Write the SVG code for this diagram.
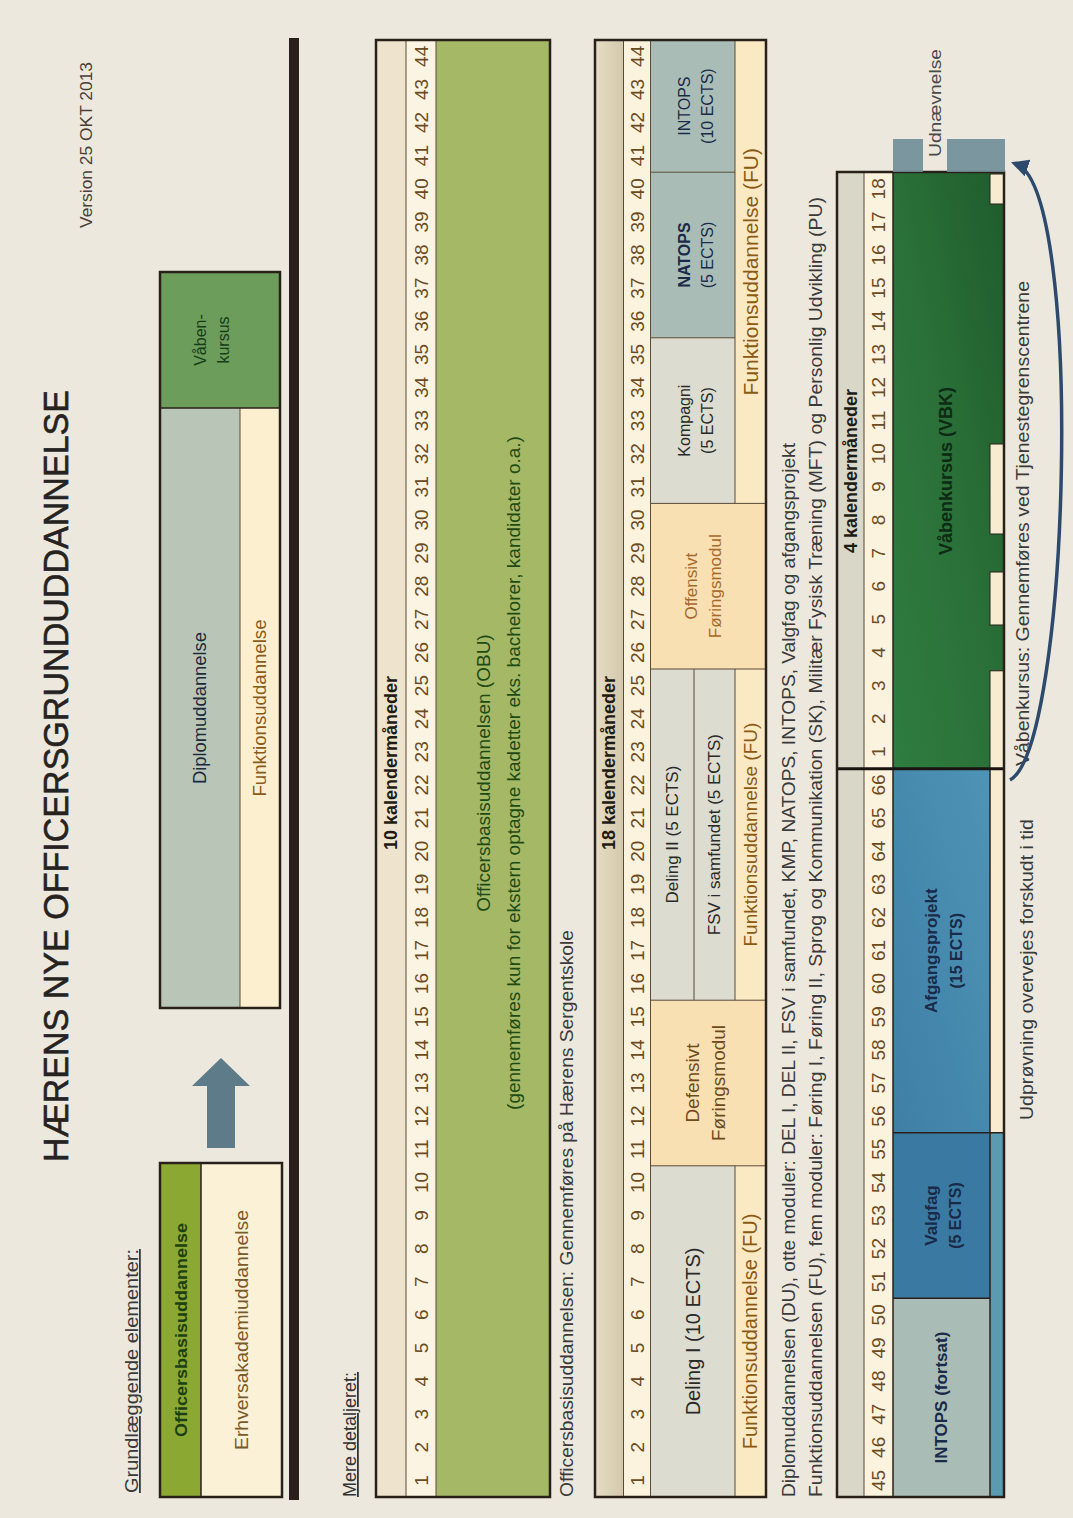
<svg xmlns="http://www.w3.org/2000/svg" width="1073" height="1518" viewBox="0 0 1073 1518">
<defs>
<style>
text{font-family:"Liberation Sans",Arial,sans-serif;}
.num{font-size:19px;fill:#6b4b22;text-anchor:middle}
.hdr{font-size:18px;font-weight:bold;fill:#1e1a14;text-anchor:middle}
.c{text-anchor:middle}
.out{fill:none;stroke:#2a201a;stroke-width:2.5}
.ln{stroke:#5a4a36;stroke-width:1;fill:none}
.lnd{stroke:#2a201a;stroke-width:1.5;fill:none}
.cap{font-size:18px;fill:#3a3a3a}
.fu{fill:#8a5a14}
.cell{fill:#2a2a2a}
.navy{fill:#1a2a48}
.bold{font-weight:bold}
.notch{fill:#f7ecd2;stroke:#2a201a;stroke-width:1}
</style>
<linearGradient id="gHdr2" x1="0" y1="0" x2="0" y2="1"><stop offset="0" stop-color="#e6ddc6"/><stop offset="1" stop-color="#d3c8aa"/></linearGradient>
<linearGradient id="gVBK" x1="0" y1="0" x2="1" y2="1"><stop offset="0" stop-color="#2f7d40"/><stop offset="0.5" stop-color="#2a7038"/><stop offset="1" stop-color="#1f5c2d"/></linearGradient>
<linearGradient id="gAfg" x1="0" y1="0" x2="1" y2="1"><stop offset="0" stop-color="#3f7fa6"/><stop offset="1" stop-color="#4e94b6"/></linearGradient>
<marker id="ah" viewBox="0 0 10 10" refX="7" refY="5" markerWidth="5" markerHeight="5" orient="auto"><path d="M0,0 L10,5 L0,10 z" fill="#2d4a6d"/></marker>
</defs>
<rect x="0" y="0" width="1073" height="1518" fill="#ece8de"/>
<g transform="matrix(0,-1,1,0,0,1518)">

<g id="title">
<text x="356" y="68" font-size="35" fill="#262220" stroke="#262220" stroke-width="0.6" textLength="772" lengthAdjust="spacingAndGlyphs">HÆRENS NYE OFFICERSGRUNDUDDANNELSE</text>
<text x="1290" y="92" font-size="17" fill="#4a4038" textLength="166" lengthAdjust="spacingAndGlyphs">Version 25 OKT 2013</text>
</g>

<g id="legend-title">
<text x="25" y="138" font-size="18" fill="#3a3a3a" text-decoration="underline" textLength="244" lengthAdjust="spacingAndGlyphs">Grundlæggende elementer:</text>
</g>

<g id="legend-obu">
<rect x="21" y="160" width="334" height="41" fill="#8ba832"/>
<rect x="21" y="201" width="334" height="81" fill="#fbf1d6"/>
<line class="lnd" x1="21" y1="201" x2="355" y2="201"/>
<rect class="out" x="21" y="160" width="334" height="122"/>
<text class="c bold" x="188" y="187" font-size="17" fill="#1d4012" textLength="214" lengthAdjust="spacingAndGlyphs">Officersbasisuddannelse</text>
<text class="c" x="188" y="248" font-size="18" fill="#7a5a2a" textLength="240" lengthAdjust="spacingAndGlyphs">Erhversakademiuddannelse</text>
</g>

<g id="legend-arrow">
<polygon points="370,207 432,207 432,192 460,221 432,250 432,235 370,235" fill="#5e7b89"/>
</g>

<g id="legend-du">
<rect x="510" y="160" width="600" height="80" fill="#b9c5b7"/>
<rect x="510" y="240" width="600" height="40" fill="#fbefcf"/>
<rect x="1110" y="160" width="136" height="120" fill="#6c9d5b"/>
<line class="ln" x1="510" y1="240" x2="1110" y2="240"/>
<line class="lnd" x1="1110" y1="160" x2="1110" y2="280"/>
<rect class="out" x="510" y="160" width="736" height="120"/>
<text class="c" x="810" y="206" font-size="18" fill="#1d2a3a" textLength="152" lengthAdjust="spacingAndGlyphs">Diplomuddannelse</text>
<text class="c" x="810" y="266" font-size="18" fill="#8a5a1a" textLength="177" lengthAdjust="spacingAndGlyphs">Funktionsuddannelse</text>
<text class="c" x="1178" y="206" font-size="16" fill="#173d1a">Våben-</text>
<text class="c" x="1178" y="229" font-size="16" fill="#173d1a">kursus</text>
</g>

<g id="divider">
<rect x="18" y="289" width="1462" height="10" fill="#2b1f1c"/>
</g>

<g id="mere">
<text x="21" y="356" font-size="18" fill="#333" text-decoration="underline">Mere detaljeret:</text>
</g>

<g id="table-obu">
<rect x="21" y="376" width="1457" height="30" fill="#eee4cd"/>
<rect x="21" y="406" width="1457" height="30" fill="#fbf4e2"/>
<rect x="21" y="436" width="1457" height="114" fill="#a4b866"/>
<line class="ln" x1="21" y1="406" x2="1478" y2="406"/>
<line class="ln" x1="21" y1="436" x2="1478" y2="436"/>
<rect class="out" x="21" y="376" width="1457" height="174"/>
<text class="hdr" x="755" y="397">10 kalendermåneder</text>
<text class="c" x="745" y="490" font-size="19" fill="#1e4a14">Officersbasisuddannelsen (OBU)</text>
<text class="c" x="745" y="520" font-size="19" fill="#1e4a14">(gennemføres kun for ekstern optagne kadetter eks. bachelorer, kandidater o.a.)</text>
<g class="nums">
<text class="num" x="37.6" y="428">1</text><text class="num" x="70.7" y="428">2</text><text class="num" x="103.8" y="428">3</text><text class="num" x="136.9" y="428">4</text><text class="num" x="170.0" y="428">5</text><text class="num" x="203.2" y="428">6</text><text class="num" x="236.3" y="428">7</text><text class="num" x="269.4" y="428">8</text><text class="num" x="302.5" y="428">9</text><text class="num" x="335.6" y="428">10</text><text class="num" x="368.8" y="428">11</text><text class="num" x="401.9" y="428">12</text><text class="num" x="435.0" y="428">13</text><text class="num" x="468.1" y="428">14</text><text class="num" x="501.2" y="428">15</text><text class="num" x="534.4" y="428">16</text><text class="num" x="567.5" y="428">17</text><text class="num" x="600.6" y="428">18</text><text class="num" x="633.7" y="428">19</text><text class="num" x="666.8" y="428">20</text><text class="num" x="700.0" y="428">21</text><text class="num" x="733.1" y="428">22</text><text class="num" x="766.2" y="428">23</text><text class="num" x="799.3" y="428">24</text><text class="num" x="832.4" y="428">25</text><text class="num" x="865.6" y="428">26</text><text class="num" x="898.7" y="428">27</text><text class="num" x="931.8" y="428">28</text><text class="num" x="964.9" y="428">29</text><text class="num" x="998.0" y="428">30</text><text class="num" x="1031.2" y="428">31</text><text class="num" x="1064.3" y="428">32</text><text class="num" x="1097.4" y="428">33</text><text class="num" x="1130.5" y="428">34</text><text class="num" x="1163.6" y="428">35</text><text class="num" x="1196.8" y="428">36</text><text class="num" x="1229.9" y="428">37</text><text class="num" x="1263.0" y="428">38</text><text class="num" x="1296.1" y="428">39</text><text class="num" x="1329.2" y="428">40</text><text class="num" x="1362.4" y="428">41</text><text class="num" x="1395.5" y="428">42</text><text class="num" x="1428.6" y="428">43</text><text class="num" x="1461.7" y="428">44</text>
</g>
</g>

<g id="caption-obu">
<text x="21" y="573" class="cap" textLength="567" lengthAdjust="spacingAndGlyphs">Officersbasisuddannelsen: Gennemføres på Hærens Sergentskole</text>
</g>

<g id="table-du">
<rect x="21" y="595" width="1457" height="28.5" fill="url(#gHdr2)"/>
<rect x="21" y="623.5" width="1457" height="27" fill="#fbf3de"/>
<rect x="21" y="650.5" width="331.2" height="84.5" fill="#dddcd1"/>
<rect x="21" y="735" width="331.2" height="31" fill="#fbe9c4"/>
<rect x="352.2" y="650.5" width="165.6" height="115.5" fill="#f8e0b2"/>
<rect x="517.8" y="650.5" width="331.2" height="84.5" fill="#dddcd1"/>
<rect x="517.8" y="735" width="331.2" height="31" fill="#fbe9c4"/>
<rect x="849" y="650.5" width="165.6" height="115.5" fill="#f8e0b2"/>
<rect x="1014.6" y="650.5" width="165.6" height="84.5" fill="#dddcd1"/>
<rect x="1180.2" y="650.5" width="165.6" height="84.5" fill="#a9bdb6"/>
<rect x="1345.8" y="650.5" width="132.2" height="84.5" fill="#a9bdb6"/>
<rect x="1014.6" y="735" width="463.4" height="31" fill="#fbe9c4"/>
<line class="ln" x1="21" y1="623.5" x2="1478" y2="623.5"/>
<line class="ln" x1="21" y1="650.5" x2="1478" y2="650.5"/>
<line class="ln" x1="517.8" y1="694" x2="849" y2="694"/>
<line class="ln" x1="21" y1="735" x2="352.2" y2="735"/>
<line class="ln" x1="517.8" y1="735" x2="849" y2="735"/>
<line class="ln" x1="1014.6" y1="735" x2="1478" y2="735"/>
<line class="ln" x1="352.2" y1="650.5" x2="352.2" y2="766"/>
<line class="ln" x1="517.8" y1="650.5" x2="517.8" y2="766"/>
<line class="ln" x1="849" y1="650.5" x2="849" y2="766"/>
<line class="ln" x1="1014.6" y1="650.5" x2="1014.6" y2="766"/>
<line class="ln" x1="1180.2" y1="650.5" x2="1180.2" y2="735"/>
<line class="ln" x1="1345.8" y1="650.5" x2="1345.8" y2="735"/>
<rect class="out" x="21" y="595" width="1457" height="171"/>
<text class="hdr" x="755" y="615">18 kalendermåneder</text>
<text class="c cell" x="186.6" y="700" font-size="20">Deling I (10 ECTS)</text>
<text class="c" x="435" y="699" font-size="19" fill="#6e4a1c">Defensivt</text>
<text class="c" x="435" y="725" font-size="19" fill="#6e4a1c">Føringsmodul</text>
<text class="c cell" x="683.4" y="678" font-size="17">Deling II (5 ECTS)</text>
<text class="c cell" x="683.4" y="720" font-size="17">FSV i samfundet (5 ECTS)</text>
<text class="c" x="931.8" y="697" font-size="17" fill="#a8682a">Offensivt</text>
<text class="c" x="931.8" y="721" font-size="17" fill="#a8682a">Føringsmodul</text>
<text class="c cell" x="1097.4" y="690" font-size="16">Kompagni</text>
<text class="c cell" x="1097.4" y="713" font-size="16">(5 ECTS)</text>
<text class="c navy bold" x="1263" y="690" font-size="16">NATOPS</text>
<text class="c navy" x="1263" y="713" font-size="16">(5 ECTS)</text>
<text class="c navy" x="1411.9" y="690" font-size="16">INTOPS</text>
<text class="c navy" x="1411.9" y="713" font-size="16">(10 ECTS)</text>
<text class="c fu" x="186.6" y="757" font-size="20">Funktionsuddannelse (FU)</text>
<text class="c fu" x="683.4" y="757" font-size="19">Funktionsuddannelse (FU)</text>
<text class="c fu" x="1246.3" y="758" font-size="21">Funktionsuddannelse (FU)</text>
<g class="nums">
<text class="num" x="37.6" y="644">1</text><text class="num" x="70.7" y="644">2</text><text class="num" x="103.8" y="644">3</text><text class="num" x="136.9" y="644">4</text><text class="num" x="170.0" y="644">5</text><text class="num" x="203.2" y="644">6</text><text class="num" x="236.3" y="644">7</text><text class="num" x="269.4" y="644">8</text><text class="num" x="302.5" y="644">9</text><text class="num" x="335.6" y="644">10</text><text class="num" x="368.8" y="644">11</text><text class="num" x="401.9" y="644">12</text><text class="num" x="435.0" y="644">13</text><text class="num" x="468.1" y="644">14</text><text class="num" x="501.2" y="644">15</text><text class="num" x="534.4" y="644">16</text><text class="num" x="567.5" y="644">17</text><text class="num" x="600.6" y="644">18</text><text class="num" x="633.7" y="644">19</text><text class="num" x="666.8" y="644">20</text><text class="num" x="700.0" y="644">21</text><text class="num" x="733.1" y="644">22</text><text class="num" x="766.2" y="644">23</text><text class="num" x="799.3" y="644">24</text><text class="num" x="832.4" y="644">25</text><text class="num" x="865.6" y="644">26</text><text class="num" x="898.7" y="644">27</text><text class="num" x="931.8" y="644">28</text><text class="num" x="964.9" y="644">29</text><text class="num" x="998.0" y="644">30</text><text class="num" x="1031.2" y="644">31</text><text class="num" x="1064.3" y="644">32</text><text class="num" x="1097.4" y="644">33</text><text class="num" x="1130.5" y="644">34</text><text class="num" x="1163.6" y="644">35</text><text class="num" x="1196.8" y="644">36</text><text class="num" x="1229.9" y="644">37</text><text class="num" x="1263.0" y="644">38</text><text class="num" x="1296.1" y="644">39</text><text class="num" x="1329.2" y="644">40</text><text class="num" x="1362.4" y="644">41</text><text class="num" x="1395.5" y="644">42</text><text class="num" x="1428.6" y="644">43</text><text class="num" x="1461.7" y="644">44</text>
</g>
</g>

<g id="notes">
<text x="21" y="795" class="cap" textLength="1054" lengthAdjust="spacingAndGlyphs">Diplomuddannelsen (DU), otte moduler: DEL I, DEL II, FSV i samfundet, KMP, NATOPS, INTOPS, Valgfag og afgangsprojekt</text>
<text x="21" y="822" class="cap" textLength="1300" lengthAdjust="spacingAndGlyphs">Funktionsuddannelsen (FU), fem moduler: Føring I, Føring II, Sprog og Kommunikation (SK), Militær Fysisk Træning (MFT) og Personlig Udvikling (PU)</text>
</g>

<g id="table-final">
<rect x="21" y="837" width="1325" height="27" fill="#d8d7c8"/>
<rect x="21" y="864" width="1325" height="29" fill="#fbf3de"/>
<rect x="21" y="893" width="198.7" height="97" fill="#a9bdb6"/>
<rect x="219.7" y="893" width="165.6" height="97" fill="#3a7aa2"/>
<rect x="21" y="990" width="364.3" height="14" fill="#5a9bb2"/>
<rect x="385.3" y="893" width="364" height="97" fill="url(#gAfg)"/>
<rect x="385.3" y="990" width="364" height="14" fill="#f7ecd2"/>
<rect x="749.2" y="893" width="596.8" height="111" fill="url(#gVBK)"/>
<rect class="notch" x="749.2" y="990" width="98" height="14"/>
<rect class="notch" x="893" y="990" width="53" height="14"/>
<rect class="notch" x="984" y="990" width="90" height="14"/>
<rect class="notch" x="1314" y="990" width="30" height="14"/>
<line class="ln" x1="21" y1="864" x2="1346" y2="864"/>
<line class="lnd" x1="21" y1="893" x2="1346" y2="893"/>
<line class="lnd" x1="21" y1="990" x2="749.2" y2="990"/>
<line class="lnd" x1="219.7" y1="893" x2="219.7" y2="990"/>
<line class="lnd" x1="385.3" y1="893" x2="385.3" y2="1004"/>
<line x1="749.2" y1="837" x2="749.2" y2="1004" stroke="#1a1410" stroke-width="3"/>
<rect class="out" x="21" y="837" width="1325" height="167"/>
<text class="hdr" x="1047" y="857">4 kalendermåneder</text>
<text class="c navy bold" x="120.4" y="947" font-size="17">INTOPS (fortsat)</text>
<text class="c navy bold" x="302.5" y="937" font-size="17">Valgfag</text>
<text class="c navy bold" x="302.5" y="961" font-size="16">(5 ECTS)</text>
<text class="c navy bold" x="567.3" y="937" font-size="17">Afgangsprojekt</text>
<text class="c navy bold" x="567.3" y="962" font-size="16">(15 ECTS)</text>
<text class="c bold" x="1047" y="952" font-size="18" fill="#0f2a14">Våbenkursus (VBK)</text>
<g class="nums">
<text class="num" x="37.6" y="885">45</text><text class="num" x="70.7" y="885">46</text><text class="num" x="103.8" y="885">47</text><text class="num" x="136.9" y="885">48</text><text class="num" x="170.0" y="885">49</text><text class="num" x="203.2" y="885">50</text><text class="num" x="236.3" y="885">51</text><text class="num" x="269.4" y="885">52</text><text class="num" x="302.5" y="885">53</text><text class="num" x="335.6" y="885">54</text><text class="num" x="368.8" y="885">55</text><text class="num" x="401.9" y="885">56</text><text class="num" x="435.0" y="885">57</text><text class="num" x="468.1" y="885">58</text><text class="num" x="501.2" y="885">59</text><text class="num" x="534.4" y="885">60</text><text class="num" x="567.5" y="885">61</text><text class="num" x="600.6" y="885">62</text><text class="num" x="633.7" y="885">63</text><text class="num" x="666.8" y="885">64</text><text class="num" x="700.0" y="885">65</text><text class="num" x="733.1" y="885">66</text>
<text class="num" x="766.2" y="885">1</text><text class="num" x="799.3" y="885">2</text><text class="num" x="832.4" y="885">3</text><text class="num" x="865.6" y="885">4</text><text class="num" x="898.7" y="885">5</text><text class="num" x="931.8" y="885">6</text><text class="num" x="964.9" y="885">7</text><text class="num" x="998.0" y="885">8</text><text class="num" x="1031.2" y="885">9</text><text class="num" x="1064.3" y="885">10</text><text class="num" x="1097.4" y="885">11</text><text class="num" x="1130.5" y="885">12</text><text class="num" x="1163.6" y="885">13</text><text class="num" x="1196.8" y="885">14</text><text class="num" x="1229.9" y="885">15</text><text class="num" x="1263.0" y="885">16</text><text class="num" x="1296.1" y="885">17</text><text class="num" x="1329.2" y="885">18</text>
</g>
</g>

<g id="udnaevnelse">
<rect x="1346" y="893" width="33" height="30" fill="#6f8d97" opacity="0.9"/>
<rect x="1346" y="947" width="33" height="58" fill="#6f8d97" opacity="0.9"/>
<text x="1361" y="941" font-size="17" fill="#4a4a4a" textLength="108" lengthAdjust="spacingAndGlyphs">Udnævnelse</text>
</g>

<g id="final-notes">
<text x="398" y="1033" font-size="18" fill="#3a3a3a" textLength="301" lengthAdjust="spacingAndGlyphs">Udprøvning overvejes forskudt i tid</text>
<text x="752" y="1029" font-size="18" fill="#3a3a3a" textLength="485" lengthAdjust="spacingAndGlyphs">Våbenkursus: Gennemføres ved Tjenestegrenscentrene</text>
</g>

<g id="connectors">
<path d="M738,1010 C770,1070 1330,1085 1354,1016" fill="none" stroke="#2d4a6d" stroke-width="3.5" marker-end="url(#ah)"/>
</g>

</g>
</svg>
